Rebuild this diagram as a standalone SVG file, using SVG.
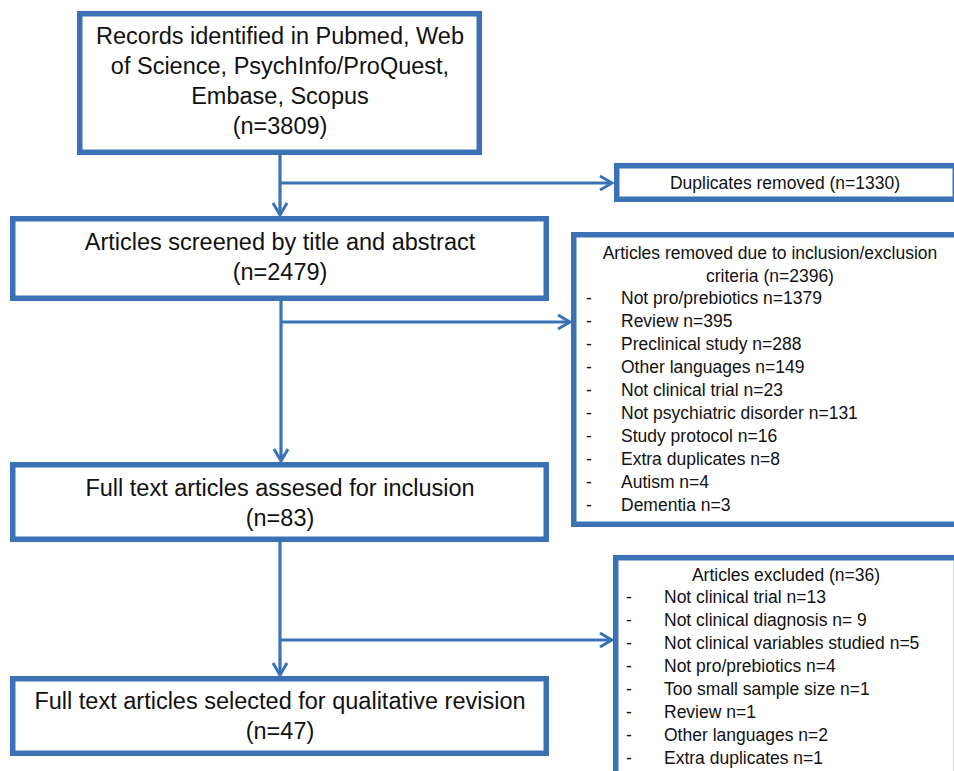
<svg xmlns="http://www.w3.org/2000/svg" width="954" height="771" viewBox="0 0 954 771">
<defs>
<style>
.box{fill:#fff;stroke:#3b72b6;stroke-width:5.5}
.con{fill:none;stroke:#3b72b6;stroke-width:3.2}
.big{font-family:"Liberation Sans",Arial,sans-serif;font-size:23.5px;fill:#111;text-anchor:middle}
.sm{font-family:"Liberation Sans",Arial,sans-serif;font-size:17.5px;fill:#111}
.c{text-anchor:middle}
</style>
<marker id="arr" viewBox="-14 -9 16 18" refX="0" refY="0" markerWidth="16" markerHeight="18" markerUnits="userSpaceOnUse" orient="auto">
<path d="M-12,-7 L0,0 L-12,7" fill="none" stroke="#3b72b6" stroke-width="3"/>
</marker>
</defs>
<rect width="954" height="771" fill="#fff"/>
<g id="connectors">
<line class="con" x1="280" y1="155" x2="280" y2="215" marker-end="url(#arr)"/>
<line class="con" x1="280" y1="183" x2="612" y2="183" marker-end="url(#arr)"/>
<line class="con" x1="281" y1="301" x2="281" y2="461" marker-end="url(#arr)"/>
<line class="con" x1="281" y1="322" x2="570" y2="322" marker-end="url(#arr)"/>
<line class="con" x1="280" y1="542" x2="280" y2="675" marker-end="url(#arr)"/>
<line class="con" x1="280" y1="640" x2="612" y2="640" marker-end="url(#arr)"/>
</g>
<g id="records">
<rect class="box" x="79.75" y="13.75" width="399.5" height="138.5"/>
<text class="big" x="280" y="44">Records identified in Pubmed, Web</text>
<text class="big" x="280" y="74">of Science, PsychInfo/ProQuest,</text>
<text class="big" x="280" y="104">Embase, Scopus</text>
<text class="big" x="280" y="134">(n=3809)</text>
</g>
<g id="duplicates">
<rect class="box" x="616.75" y="165.75" width="338.5" height="33.5"/>
<text class="sm c" x="785" y="189">Duplicates removed (n=1330)</text>
</g>
<g id="screened">
<rect class="box" x="12.75" y="218.75" width="533.5" height="79.5"/>
<text class="big" x="280" y="250">Articles screened by title and abstract</text>
<text class="big" x="280" y="280">(n=2479)</text>
</g>
<g id="removed">
<rect class="box" x="573.75" y="234.75" width="400" height="289.5"/>
<text class="sm c" x="770" y="259">Articles removed due to inclusion/exclusion</text>
<text class="sm c" x="770" y="282">criteria (n=2396)</text>
<g class="sm">
<text x="586" y="304">-</text><text x="621" y="304">Not pro/prebiotics n=1379</text>
<text x="586" y="327">-</text><text x="621" y="327">Review n=395</text>
<text x="586" y="350">-</text><text x="621" y="350">Preclinical study n=288</text>
<text x="586" y="373">-</text><text x="621" y="373">Other languages n=149</text>
<text x="586" y="396">-</text><text x="621" y="396">Not clinical trial n=23</text>
<text x="586" y="419">-</text><text x="621" y="419">Not psychiatric disorder n=131</text>
<text x="586" y="442">-</text><text x="621" y="442">Study protocol n=16</text>
<text x="586" y="465">-</text><text x="621" y="465">Extra duplicates n=8</text>
<text x="586" y="488">-</text><text x="621" y="488">Autism n=4</text>
<text x="586" y="511">-</text><text x="621" y="511">Dementia n=3</text>
</g>
</g>
<g id="assessed">
<rect class="box" x="12.75" y="464.75" width="533.5" height="74.5"/>
<text class="big" x="280" y="496">Full text articles assesed for inclusion</text>
<text class="big" x="280" y="526">(n=83)</text>
</g>
<g id="excluded">
<rect class="box" x="615.75" y="557.75" width="340.75" height="300"/>
<text class="sm c" x="786" y="581">Articles excluded (n=36)</text>
<g class="sm">
<text x="626" y="603">-</text><text x="664" y="603">Not clinical trial n=13</text>
<text x="626" y="626">-</text><text x="664" y="626">Not clinical diagnosis n= 9</text>
<text x="626" y="649">-</text><text x="664" y="649">Not clinical variables studied n=5</text>
<text x="626" y="672">-</text><text x="664" y="672">Not pro/prebiotics n=4</text>
<text x="626" y="695">-</text><text x="664" y="695">Too small sample size n=1</text>
<text x="626" y="718">-</text><text x="664" y="718">Review n=1</text>
<text x="626" y="741">-</text><text x="664" y="741">Other languages n=2</text>
<text x="626" y="764">-</text><text x="664" y="764">Extra duplicates n=1</text>
</g>
</g>
<g id="selected">
<rect class="box" x="12.75" y="678.75" width="533.5" height="74.5"/>
<text class="big" x="280" y="709">Full text articles selected for qualitative revision</text>
<text class="big" x="280" y="739">(n=47)</text>
</g>
</svg>
